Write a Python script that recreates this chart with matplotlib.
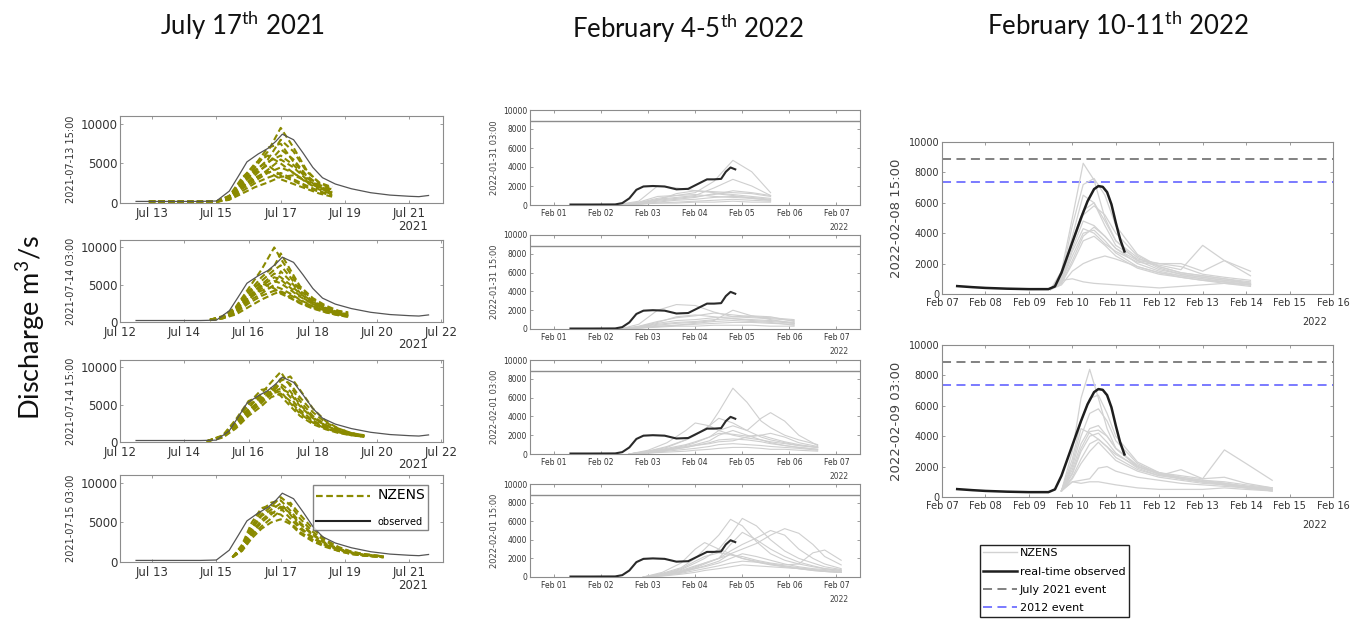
import matplotlib
matplotlib.use("Agg")
import matplotlib.pyplot as plt
from matplotlib.lines import Line2D

plt.rcParams['font.family'] = ['DejaVu Sans']
plt.rcParams['mathtext.fontset'] = 'custom'
plt.rcParams['mathtext.rm'] = 'Lato'

# ---------------- July 2021 event (left column) ----------------
jul_obs_t = [12.5, 13.5, 14.5, 15.0, 15.4, 15.7, 15.95, 16.3, 16.6, 16.85, 17.05, 17.4,
             17.7, 18.0, 18.3, 18.7, 19.2, 19.8, 20.4, 21.0, 21.3, 21.6]
jul_obs_q = [200, 200, 200, 250, 1500, 3500, 5200, 6200, 6900, 7800, 8700, 8000,
             6300, 4500, 3200, 2400, 1800, 1300, 1000, 850, 800, 950]

jul1_t = [12.9, 14.0, 15.0, 15.4, 15.8, 16.2, 16.6, 17.0, 17.4, 17.8, 18.2, 18.6]
jul1_ens = [
    [200, 150, 200, 900, 2800, 4500, 6500, 9500, 7000, 4200, 2500, 1800],
    [200, 150, 200, 800, 2500, 4000, 5500, 8000, 6500, 4000, 2600, 2000],
    [200, 150, 150, 600, 2000, 3500, 5000, 6800, 5500, 3500, 2200, 1500],
    [200, 150, 150, 700, 2200, 3000, 4200, 5500, 4500, 3000, 2000, 1300],
    [200, 150, 150, 500, 1800, 2800, 3800, 4500, 3800, 2600, 1700, 1100],
    [200, 150, 150, 600, 2400, 3800, 4800, 3500, 2800, 2000, 1400, 900],
    [200, 150, 200, 800, 3000, 5000, 6000, 5000, 3800, 2700, 1900, 1200],
    [200, 150, 150, 500, 1500, 2500, 3200, 3800, 3000, 2200, 1500, 1000],
    [200, 150, 150, 700, 2600, 4200, 5200, 6000, 4800, 3200, 2100, 1400],
    [200, 150, 150, 400, 1200, 2000, 2600, 3300, 3500, 2800, 2000, 1500],
    [200, 150, 200, 900, 3200, 4800, 7000, 7500, 5200, 3400, 2300, 1700],
    [200, 150, 150, 600, 2000, 3200, 4000, 3000, 2400, 1800, 1200, 800],
]

jul2_t = [14.8, 15.2, 15.6, 16.0, 16.4, 16.8, 17.0, 17.3, 17.6, 18.0, 18.4, 18.8, 19.1]
jul2_ens = [
    [300, 800, 2000, 4500, 7000, 10000, 8500, 6500, 4500, 3000, 2000, 1400, 1200],
    [300, 700, 1800, 4000, 6000, 7500, 9200, 7000, 4800, 3200, 2200, 1500, 1300],
    [250, 600, 1500, 3500, 5000, 6500, 6000, 5000, 3800, 2600, 1800, 1200, 1000],
    [250, 500, 1300, 3000, 4500, 5500, 5200, 4300, 3400, 2400, 1600, 1100, 900],
    [300, 600, 1600, 3200, 4200, 4800, 4500, 3800, 3000, 2100, 1500, 1000, 800],
    [250, 500, 1200, 2500, 3500, 4200, 4000, 3300, 2600, 1900, 1300, 900, 700],
    [300, 700, 1700, 3800, 5500, 7000, 7600, 6000, 4200, 2800, 1900, 1300, 1000],
    [250, 500, 1000, 2000, 3000, 3800, 4100, 3600, 2900, 2100, 1500, 1000, 800],
    [300, 650, 1600, 3300, 4800, 6000, 5700, 4600, 3500, 2400, 1700, 1200, 900],
    [250, 550, 1400, 2800, 3800, 5000, 6800, 5500, 3900, 2700, 1800, 1200, 1000],
    [300, 700, 1900, 4200, 5200, 4500, 3800, 3200, 2500, 1800, 1300, 900, 700],
]

jul3_t = [14.7, 15.2, 15.6, 16.0, 16.4, 16.7, 17.0, 17.3, 17.6, 18.0, 18.4, 18.8, 19.2, 19.6]
jul3_ens = [
    [100, 800, 2500, 4500, 6500, 8000, 9400, 7500, 5500, 3500, 2300, 1600, 1100, 800],
    [100, 700, 2200, 4200, 5800, 6800, 8500, 7800, 6000, 4000, 2600, 1800, 1200, 900],
    [100, 900, 3000, 5500, 6200, 7000, 7500, 6000, 4300, 2900, 2000, 1400, 1000, 800],
    [100, 600, 2000, 3800, 5200, 6500, 7200, 6500, 4800, 3200, 2200, 1500, 1100, 800],
    [100, 800, 2600, 5000, 6000, 6500, 6800, 5200, 3800, 2600, 1800, 1300, 900, 700],
    [100, 700, 2300, 4300, 5500, 6300, 8200, 8800, 7000, 4500, 2800, 1800, 1200, 900],
    [100, 600, 1800, 3500, 4800, 6000, 6500, 5500, 4000, 2700, 1900, 1300, 1000, 700],
    [100, 800, 2800, 5200, 7000, 7200, 6200, 4800, 3500, 2400, 1700, 1200, 900, 700],
    [100, 700, 2100, 4000, 5600, 6800, 7800, 6800, 5000, 3300, 2200, 1500, 1100, 800],
]

jul4_t = [15.5, 15.8, 16.1, 16.4, 16.7, 17.0, 17.3, 17.6, 18.0, 18.4, 18.8, 19.2, 19.6, 20.2]
jul4_ens = [
    [600, 2000, 4500, 6500, 7500, 7800, 6500, 5000, 3500, 2400, 1700, 1200, 900, 700],
    [600, 1800, 4000, 6000, 7000, 8200, 7200, 5500, 3800, 2600, 1800, 1300, 1000, 700],
    [600, 2200, 5000, 6800, 7200, 6800, 5500, 4200, 3000, 2100, 1500, 1100, 800, 600],
    [600, 1500, 3500, 5000, 6000, 7000, 6200, 4800, 3400, 2300, 1600, 1200, 900, 700],
    [600, 1700, 3800, 5300, 6300, 6000, 5000, 3800, 2800, 2000, 1400, 1000, 800, 600],
    [600, 1600, 3300, 4500, 5500, 6500, 7500, 6000, 4200, 2800, 1900, 1300, 1000, 700],
    [600, 1900, 4300, 5800, 6600, 7400, 6000, 4400, 3100, 2200, 1600, 1100, 900, 700],
    [600, 1400, 3000, 4200, 5000, 5400, 4800, 3600, 2600, 1900, 1400, 1000, 800, 600],
]

jul_inits = ['2021-07-13 15:00', '2021-07-14 03:00', '2021-07-14 15:00', '2021-07-15 03:00']

# ---------------- February 4-5 2022 (middle column), x = day of February ----------------
feb_obs_t = [1.35, 1.8, 2.3, 2.45, 2.6, 2.75, 2.9, 3.1, 3.35, 3.6, 3.85, 4.05, 4.25,
             4.4, 4.55, 4.65, 4.75, 4.85]
feb_obs_q = [50, 50, 60, 200, 700, 1600, 1950, 2000, 1950, 1650, 1700, 2200, 2700,
             2700, 2750, 3500, 3950, 3750]
feb_july_level = 8800

feb1_t = [2.3, 2.8, 3.2, 3.6, 4.0, 4.4, 4.8, 5.2, 5.6]
feb1_ens = [
    [0, 300, 900, 1000, 1300, 2500, 4700, 3500, 1300],
    [0, 200, 600, 800, 1000, 1800, 2700, 2000, 1000],
    [0, 400, 2000, 1800, 1500, 1400, 1300, 1200, 900],
    [0, 200, 500, 700, 900, 1100, 1500, 1300, 1000],
    [0, 100, 300, 500, 600, 800, 900, 800, 600],
    [0, 150, 400, 600, 800, 1200, 1000, 700, 500],
    [0, 100, 200, 300, 400, 500, 600, 500, 400],
    [0, 250, 700, 1000, 1100, 900, 800, 700, 500],
    [0, 100, 200, 200, 300, 300, 400, 300, 300],
    [0, 200, 500, 1200, 1500, 1300, 1100, 900, 700],
]

feb2_t = [2.4, 2.8, 3.2, 3.6, 4.0, 4.4, 4.8, 5.2, 5.6, 6.1]
feb2_ens = [
    [0, 500, 2000, 2600, 2500, 1800, 1300, 1200, 1100, 900],
    [0, 300, 800, 1200, 1400, 1700, 1500, 1300, 1200, 1000],
    [0, 200, 600, 900, 1000, 1200, 1300, 1400, 1300, 800],
    [0, 200, 500, 700, 800, 1000, 1100, 1000, 900, 700],
    [0, 100, 300, 400, 500, 600, 700, 700, 600, 500],
    [0, 150, 400, 600, 700, 900, 2000, 1400, 1000, 600],
    [0, 100, 200, 300, 300, 400, 400, 400, 300, 300],
    [0, 250, 700, 1300, 1500, 1300, 1100, 900, 800, 600],
    [0, 100, 250, 400, 600, 800, 900, 800, 700, 400],
]

feb3_t = [2.6, 3.0, 3.4, 3.8, 4.0, 4.3, 4.5, 4.8, 5.1, 5.4, 5.6, 5.9, 6.2, 6.6]
feb3_ens = [
    [0, 300, 800, 1500, 2000, 3000, 4500, 7000, 5500, 3500, 2800, 2000, 1500, 1000],
    [0, 200, 500, 900, 1200, 1800, 2500, 3000, 2500, 3800, 4400, 3500, 2000, 900],
    [0, 400, 1200, 2500, 3300, 3000, 2500, 2000, 1700, 1500, 1300, 1100, 900, 700],
    [0, 300, 700, 1500, 2000, 3000, 3800, 3300, 2500, 1800, 1500, 1200, 900, 700],
    [0, 200, 600, 1000, 1300, 1800, 2200, 2100, 1900, 2000, 2200, 1800, 1200, 800],
    [0, 150, 400, 700, 900, 1200, 1500, 1600, 1500, 1300, 1100, 900, 700, 500],
    [0, 100, 300, 500, 600, 800, 1000, 1100, 1000, 900, 800, 700, 600, 400],
    [0, 250, 500, 800, 1000, 1400, 2000, 2500, 2000, 1500, 1200, 900, 700, 500],
    [0, 100, 200, 300, 400, 500, 600, 700, 700, 600, 500, 500, 400, 300],
    [0, 200, 400, 700, 900, 1100, 1300, 1400, 1800, 2000, 1700, 1300, 1000, 700],
]

feb4_t = [2.9, 3.3, 3.7, 4.0, 4.2, 4.5, 4.75, 5.0, 5.3, 5.6, 5.9, 6.2, 6.5, 6.75, 7.1]
feb4_ens = [
    [0, 400, 1000, 2000, 3000, 4500, 6200, 5500, 3800, 2500, 1800, 1400, 1100, 900, 700],
    [0, 300, 800, 1500, 2000, 3000, 4500, 6300, 5500, 4000, 2800, 2000, 1500, 1100, 800],
    [0, 200, 600, 1000, 1400, 2000, 2800, 3500, 4200, 5000, 4500, 3000, 2000, 1400, 900],
    [0, 200, 500, 900, 1200, 1700, 2500, 3000, 3600, 4500, 5200, 4700, 3500, 2200, 1300],
    [0, 500, 1500, 3000, 3700, 3000, 2500, 2000, 1600, 1300, 1100, 900, 700, 600, 500],
    [0, 300, 700, 1200, 1500, 2000, 2400, 2200, 1800, 1500, 1300, 1400, 2600, 2900, 1800],
    [0, 200, 500, 900, 1100, 1500, 2000, 2500, 2200, 1800, 1400, 1100, 900, 800, 600],
    [0, 150, 400, 700, 900, 1200, 1500, 1700, 1600, 1400, 1200, 1000, 800, 700, 500],
    [0, 100, 300, 500, 700, 900, 1100, 1300, 1200, 1100, 1000, 900, 800, 600, 500],
    [0, 300, 900, 1700, 2200, 2600, 2400, 2000, 1700, 1400, 1100, 900, 700, 600, 500],
    [0, 200, 600, 1100, 1500, 2000, 3500, 4800, 4000, 3000, 2200, 1600, 1200, 900, 700],
]

feb_inits = ['2022-01-31 03:00', '2022-01-31 15:00', '2022-02-01 03:00', '2022-02-01 15:00']

# ---------------- February 10-11 2022 (right column) ----------------
r_obs_t = [7.35, 7.7, 8.0, 8.5, 9.0, 9.45, 9.6, 9.75, 9.9, 10.05, 10.2, 10.35, 10.5,
           10.6, 10.7, 10.8, 10.9, 11.0, 11.1, 11.2]
r_obs_q = [520, 450, 400, 350, 320, 320, 500, 1400, 2600, 3800, 5000, 6100, 6900,
           7100, 7050, 6700, 5900, 4700, 3600, 2800]
july2021_level = 8900
event2012_level = 7350

r1_t = [9.5, 9.75, 10.0, 10.25, 10.5, 10.75, 11.0, 11.5, 12.0, 12.5, 13.0, 13.5, 14.1]
r1_ens = [
    [300, 1500, 5000, 8600, 7500, 5000, 3500, 2200, 1600, 1300, 1100, 900, 700],
    [300, 1200, 4500, 7200, 7600, 6500, 4500, 2600, 1800, 1400, 1200, 1000, 800],
    [300, 1000, 3500, 5500, 6000, 4800, 3500, 2400, 1700, 1300, 1100, 900, 700],
    [300, 900, 3000, 4800, 4500, 3800, 3000, 2000, 1500, 1200, 1000, 800, 600],
    [300, 800, 2500, 4000, 4200, 3500, 2700, 1800, 1400, 1100, 900, 800, 600],
    [300, 700, 2000, 3500, 3800, 3200, 2500, 1700, 1300, 1100, 900, 700, 500],
    [300, 1100, 3800, 6500, 6000, 4500, 3200, 2300, 2000, 1800, 1300, 1100, 900],
    [300, 600, 1500, 2000, 2300, 2500, 2300, 1800, 1400, 1200, 1000, 800, 600],
    [300, 900, 1000, 800, 700, 650, 600, 500, 400, 500, 600, 700, 600],
    [300, 800, 2800, 4300, 4000, 3300, 2800, 2100, 1900, 1600, 3200, 2200, 1200],
    [300, 700, 2200, 3800, 4400, 3800, 3000, 2200, 2000, 2000, 1500, 2200, 1500],
    [300, 1000, 3300, 5200, 5800, 5200, 4000, 2500, 1800, 1400, 1200, 1000, 700],
]

r2_t = [9.75, 10.0, 10.2, 10.4, 10.6, 10.8, 11.0, 11.5, 12.0, 12.5, 13.0, 13.5, 14.0, 14.6]
r2_ens = [
    [400, 3000, 6500, 8400, 6500, 4500, 3200, 2000, 1500, 1200, 1000, 900, 700, 600],
    [400, 2500, 5000, 6500, 6700, 5500, 4000, 2300, 1600, 1200, 1000, 800, 700, 500],
    [400, 2000, 4000, 5500, 5800, 5000, 3700, 2200, 1500, 1200, 1000, 800, 600, 500],
    [400, 1800, 3500, 4500, 4700, 4000, 3200, 2000, 1500, 1300, 1100, 900, 700, 500],
    [400, 1500, 3000, 4000, 4200, 3600, 2900, 1900, 1400, 1200, 1000, 900, 700, 500],
    [400, 1300, 2500, 3500, 3800, 3300, 2600, 1800, 1400, 1800, 1200, 3100, 2200, 1100],
    [400, 1200, 2200, 3000, 3600, 3000, 2400, 1700, 1300, 1100, 900, 800, 600, 400],
    [400, 1000, 1100, 1200, 1900, 2000, 1700, 1300, 1100, 900, 800, 700, 600, 400],
    [400, 1000, 900, 1000, 1000, 900, 800, 600, 500, 500, 500, 600, 500, 400],
    [400, 2200, 4500, 4200, 3800, 3300, 2800, 2000, 1600, 1400, 1200, 1300, 900, 600],
    [400, 1600, 3200, 4300, 4400, 4000, 3200, 2100, 1600, 1300, 1100, 1000, 800, 600],
]

r_inits = ['2022-02-08 15:00', '2022-02-09 03:00']

W, H = 1365, 625
fig = plt.figure(figsize=(W / 100, H / 100), dpi=100)


def px_axes(x0, x1, y0, y1):
    return fig.add_axes([x0 / W, 1 - y1 / H, (x1 - x0) / W, (y1 - y0) / H])


def style(ax, fs):
    for s in ax.spines.values():
        s.set_color('#8c8c8c')
        s.set_linewidth(0.8)
    ax.tick_params(direction='in', length=2.5, width=0.6, top=True, right=True,
                   labelsize=fs, colors='#8c8c8c', labelcolor='#333333', pad=2)
    ax.tick_params(axis='x', pad=3)


# left column
olive = '#8a8a00'
left_rows = [(116, 203), (240, 322), (360, 442), (475, 562)]
left_sets = [(jul1_t, jul1_ens), (jul2_t, jul2_ens), (jul3_t, jul3_ens), (jul4_t, jul4_ens)]
for i, ((y0, y1), (tt, ens)) in enumerate(zip(left_rows, left_sets)):
    ax = px_axes(120, 443, y0, y1)
    ax.plot(jul_obs_t, jul_obs_q, color='#555555', lw=0.9, zorder=3)
    for m in ens:
        ax.plot(tt, m, color=olive, lw=1.5, dashes=(3, 1.6))
    ax.set_xlim(12, 22.05)
    ax.set_ylim(0, 11000)
    ax.set_yticks([0, 5000, 10000])
    if i in (0, 3):
        days = [13, 15, 17, 19, 21]
    else:
        days = [12, 14, 16, 18, 20, 22]
    ax.set_xticks(days)
    ax.set_xticklabels(['Jul %d' % d for d in days])
    style(ax, 8.5)
    ax.set_ylabel(jul_inits[i], fontsize=7, color='#333333', labelpad=3)
    ax.text(0.955, -0.19, '2021', transform=ax.transAxes, ha='right', va='top',
            fontsize=8.5, color='#333333')
    if i == 3:
        h = [Line2D([], [], color=olive, lw=1.6, dashes=(3, 1.6)),
             Line2D([], [], color='#222222', lw=1.5)]
        leg = ax.legend(h, ['NZENS', 'observed'], loc='upper right',
                        bbox_to_anchor=(0.955, 0.89), fontsize=7,
                        handlelength=5.5, fancybox=False, edgecolor='#666666',
                        borderaxespad=0.0, labelspacing=1.5, borderpad=0.35)
        leg.get_texts()[0].set_fontsize(10)

# middle column
mid_rows = [(110, 205), (235, 329), (360, 454), (484, 577)]
mid_sets = [(feb1_t, feb1_ens), (feb2_t, feb2_ens), (feb3_t, feb3_ens), (feb4_t, feb4_ens)]
for i, ((y0, y1), (tt, ens)) in enumerate(zip(mid_rows, mid_sets)):
    ax = px_axes(530, 860, y0, y1)
    ax.axhline(feb_july_level, color='#8c8c8c', lw=1.0)
    for m in ens:
        ax.plot(tt, m, color='#cfcfcf', lw=0.8)
    ax.plot(feb_obs_t, feb_obs_q, color='#2a2a2a', lw=1.5, zorder=3)
    ax.set_xlim(0.49, 7.5)
    ax.set_ylim(0, 10000)
    ax.set_yticks(range(0, 10001, 2000))
    ax.set_xticks(range(1, 8))
    ax.set_xticklabels(['Feb %02d' % d for d in range(1, 8)])
    style(ax, 5.5)
    ax.set_ylabel(feb_inits[i], fontsize=6, color='#444444', labelpad=3)
    ax.text(0.965, -0.19, '2022', transform=ax.transAxes, ha='right', va='top',
            fontsize=5.5, color='#444444')

# right column
right_rows = [(142, 294), (345, 497)]
right_sets = [(r1_t, r1_ens), (r2_t, r2_ens)]
for i, ((y0, y1), (tt, ens)) in enumerate(zip(right_rows, right_sets)):
    ax = px_axes(942, 1333, y0, y1)
    ax.axhline(july2021_level, color='#777777', lw=1.3, dashes=(5, 3))
    ax.axhline(event2012_level, color='#6f6fff', lw=1.3, dashes=(5, 3))
    for m in ens:
        ax.plot(tt, m, color='#d2d2d2', lw=0.9)
    ax.plot(r_obs_t, r_obs_q, color='#1e1e1e', lw=1.8, zorder=3)
    ax.set_xlim(7, 16)
    ax.set_ylim(0, 10000)
    ax.set_yticks(range(0, 10001, 2000))
    ax.set_xticks(range(7, 17))
    ax.set_xticklabels(['Feb %02d' % d for d in range(7, 17)])
    style(ax, 7)
    ax.set_ylabel(r_inits[i], fontsize=9.5, color='#444444', labelpad=4)
    ax.text(0.985, -0.15, '2022', transform=ax.transAxes, ha='right', va='top',
            fontsize=7, color='#333333')

h = [Line2D([], [], color='#d2d2d2', lw=1.0),
     Line2D([], [], color='#1e1e1e', lw=1.8),
     Line2D([], [], color='#777777', lw=1.3, dashes=(5, 3)),
     Line2D([], [], color='#6f6fff', lw=1.3, dashes=(5, 3))]
fig.legend(h, ['NZENS', 'real-time observed', 'July 2021 event', '2012 event'],
           loc='upper left', bbox_to_anchor=(980 / W, 1 - 545 / H), fontsize=8,
           fancybox=False, edgecolor='#222222', handlelength=3.0, handletextpad=0.3,
           labelspacing=0.75, borderpad=0.3, borderaxespad=0.0, framealpha=1)

# titles and common label
tkw = dict(fontsize=18.5, family='Lato', ha='center', va='center', color='#111111')
fig.text(243 / W, 1 - 25 / H, r'July 17$^{\mathrm{th}}$ 2021', **tkw)
fig.text(688 / W, 1 - 28 / H, r'February 4-5$^{\mathrm{th}}$ 2022', **tkw)
fig.text(1118 / W, 1 - 25 / H, r'February 10-11$^{\mathrm{th}}$ 2022', **tkw)
fig.text(30 / W, 1 - 328 / H, r'Discharge m$^3$/s', rotation=90, fontsize=19.5,
         family='Lato', ha='center', va='center', color='#111111')

fig.savefig('out.png', dpi=100)
